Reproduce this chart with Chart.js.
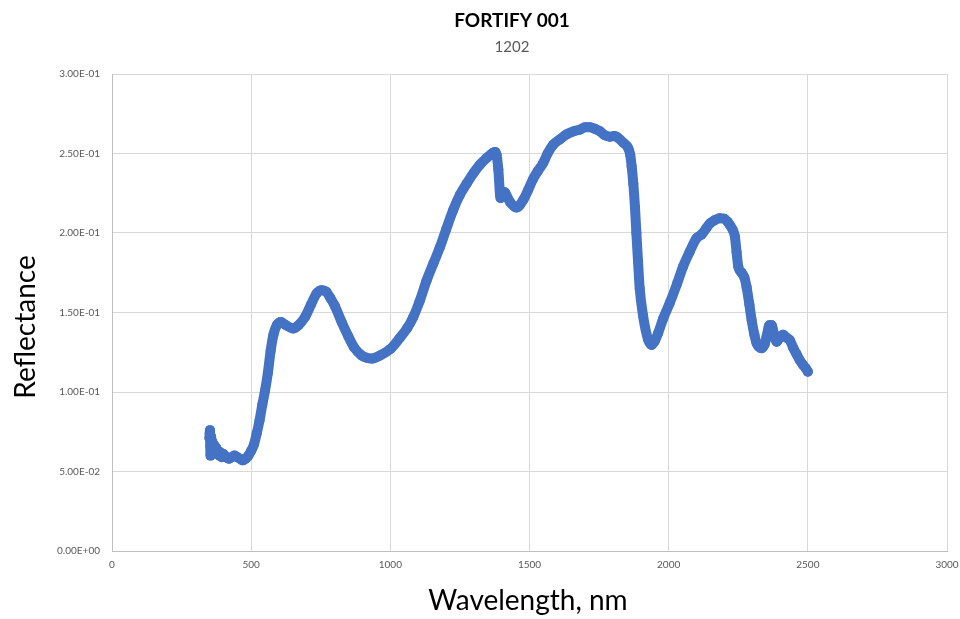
<!DOCTYPE html>
<html>
<head>
<meta charset="utf-8">
<script src="https://cdn.jsdelivr.net/npm/chart.js@4/dist/chart.umd.min.js"></script>
<style>
  html, body { margin: 0; padding: 0; background: #fff; }
  #wrap { width: 960px; height: 619px; position: relative; }
</style>
</head>
<body>
<div id="wrap"><canvas id="spectrum"></canvas></div>
<script>
// wavelength (nm)
const wavelengths = [
  350, 351, 352, 353, 354, 356, 358, 360, 363, 366, 370, 374, 378, 382, 386, 390, 395,
  400, 410, 420, 430, 440, 450, 460, 470, 480, 490, 500, 510, 520, 530, 540, 550, 560,
  570, 580, 592, 607, 625, 651, 670, 693, 715, 735, 753, 770, 785, 801, 825, 849, 870,
  897, 915, 933, 963, 1000, 1034, 1060, 1082, 1105, 1130, 1155, 1178, 1200, 1226, 1250,
  1274, 1300, 1322, 1345, 1365, 1376, 1382, 1388, 1396, 1404, 1412, 1430, 1454, 1478,
  1495, 1513, 1530, 1549, 1565, 1585, 1610, 1633, 1660, 1681, 1700, 1717, 1735, 1753,
  1770, 1789, 1805, 1813, 1837, 1855, 1862, 1867, 1873, 1879, 1884, 1890, 1896, 1908,
  1926, 1939, 1950, 1962, 1980, 2004, 2030, 2052, 2075, 2100, 2118, 2135, 2148, 2165,
  2184, 2200, 2212, 2220, 2230, 2238, 2244, 2250, 2262, 2272, 2280, 2290, 2298, 2308,
  2316, 2334, 2345, 2352, 2362, 2370, 2380, 2388, 2398, 2411, 2425, 2435, 2447, 2459,
  2471, 2483, 2492, 2500
];

// reflectance for each wavelength above
const reflectance = [
  0.071, 0.074, 0.076, 0.066, 0.060, 0.072, 0.063, 0.069, 0.064, 0.067, 0.063, 0.065, 0.061, 0.063, 0.060, 0.062, 0.059,
  0.061, 0.059, 0.058, 0.059, 0.060, 0.059, 0.058, 0.057, 0.058, 0.060, 0.063, 0.067, 0.074, 0.082, 0.092, 0.101, 0.112,
  0.126, 0.136, 0.142, 0.144, 0.142, 0.140, 0.142, 0.147, 0.155, 0.162, 0.164, 0.163, 0.159, 0.154, 0.144, 0.135, 0.128,
  0.123, 0.1215, 0.121, 0.123, 0.127, 0.134, 0.140, 0.147, 0.157, 0.170, 0.181, 0.191, 0.202, 0.2145, 0.224,
  0.231, 0.238, 0.243, 0.247, 0.250, 0.251, 0.249, 0.240, 0.222, 0.226, 0.2255, 0.2195, 0.216, 0.221,
  0.227, 0.234, 0.239, 0.244, 0.250, 0.2555, 0.259, 0.262, 0.264, 0.265, 0.2665, 0.2665, 0.2655, 0.264,
  0.2615, 0.2606, 0.261, 0.2605, 0.2568, 0.2533, 0.249, 0.242, 0.231, 0.216, 0.200, 0.182, 0.165, 0.148,
  0.133, 0.1296, 0.132, 0.137, 0.146, 0.156, 0.168, 0.179, 0.188, 0.1967, 0.199, 0.203, 0.206, 0.208,
  0.2093, 0.209, 0.207, 0.205, 0.202, 0.1977, 0.188, 0.179, 0.175, 0.172, 0.166, 0.155, 0.1453, 0.136,
  0.1306, 0.1275, 0.130, 0.135, 0.142, 0.142, 0.135, 0.1316, 0.134, 0.136, 0.134, 0.1327, 0.128, 0.124,
  0.120, 0.117, 0.115, 0.1128
];

const xTicks = [0, 500, 1000, 1500, 2000, 2500, 3000];
const yTicks = [0, 0.05, 0.10, 0.15, 0.20, 0.25, 0.30];

const chartTitle = "FORTIFY 001";
const chartSubtitle = "1202";
const xTitle = "Wavelength, nm";
const yTitle = "Reflectance";

const points = wavelengths.map((w, i) => ({ x: w, y: reflectance[i] }));

// format like Excel scientific: 2.50E-01
function sci(v) {
  if (Math.abs(v) < 1e-12) return "0.00E+00";
  let [m, e] = v.toExponential(2).split("e");
  let n = parseInt(e, 10);
  let sign = n < 0 ? "-" : "+";
  return m + "E" + sign + String(Math.abs(n)).padStart(2, "0");
}

// titles drawn by hand so they sit where the reference has them
const textPlugin = {
  id: "textPlugin",
  afterDraw(chart) {
    const c = chart.ctx;
    c.save();
    c.textAlign = "center";
    c.textBaseline = "middle";
    c.fillStyle = "#000";
    c.font = "bold 19px Lato";
    c.fillText(chartTitle, 512, 21);
    c.fillStyle = "#595959";
    c.font = "15px Lato";
    c.fillText(chartSubtitle, 512, 47);
    c.fillStyle = "#000";
    c.font = "28px Lato";
    c.fillText(xTitle, 528, 601);
    c.translate(26, 327);
    c.rotate(-Math.PI / 2);
    c.fillText(yTitle, 0, 0);
    c.restore();
  }
};

const tickFont = { family: "Lato", size: 10 };

new Chart(document.getElementById("spectrum"), {
  type: "scatter",
  data: {
    datasets: [{
      data: points,
      showLine: true,
      borderColor: "#4472C4",
      backgroundColor: "#4472C4",
      borderWidth: 10,
      borderJoinStyle: "round",
      borderCapStyle: "round",
      cubicInterpolationMode: "monotone",
      pointRadius: 5,
      pointBorderWidth: 0,
      pointHoverRadius: 5
    }]
  },
  options: {
    responsive: true,
    maintainAspectRatio: false,
    animation: false,
    layout: { padding: { top: 74, right: 13, left: 0, bottom: 0 } },
    plugins: {
      legend: { display: false },
      tooltip: { enabled: false }
    },
    scales: {
      x: {
        type: "linear",
        min: 0,
        max: 3000,
        afterFit(s) {
          s.height = 68;
          s.paddingLeft = 0;
          s.paddingRight = 0;
        },
        afterBuildTicks(s) { s.ticks = xTicks.map(v => ({ value: v })); },
        ticks: { color: "#595959", font: tickFont, padding: 8, callback: v => String(v) },
        grid: { color: "#d9d9d9", drawTicks: false },
        border: { color: "#bfbfbf" }
      },
      y: {
        type: "linear",
        min: 0,
        max: 0.3,
        afterFit(s) {
          s.width = 112;
          s.paddingTop = 0;
          s.paddingBottom = 0;
        },
        afterBuildTicks(s) { s.ticks = yTicks.map(v => ({ value: v })); },
        ticks: { color: "#595959", font: tickFont, padding: 12, callback: v => sci(v) },
        grid: { color: "#d9d9d9", drawTicks: false },
        border: { color: "#bfbfbf" }
      }
    }
  },
  plugins: [textPlugin]
});
</script>
</body>
</html>
